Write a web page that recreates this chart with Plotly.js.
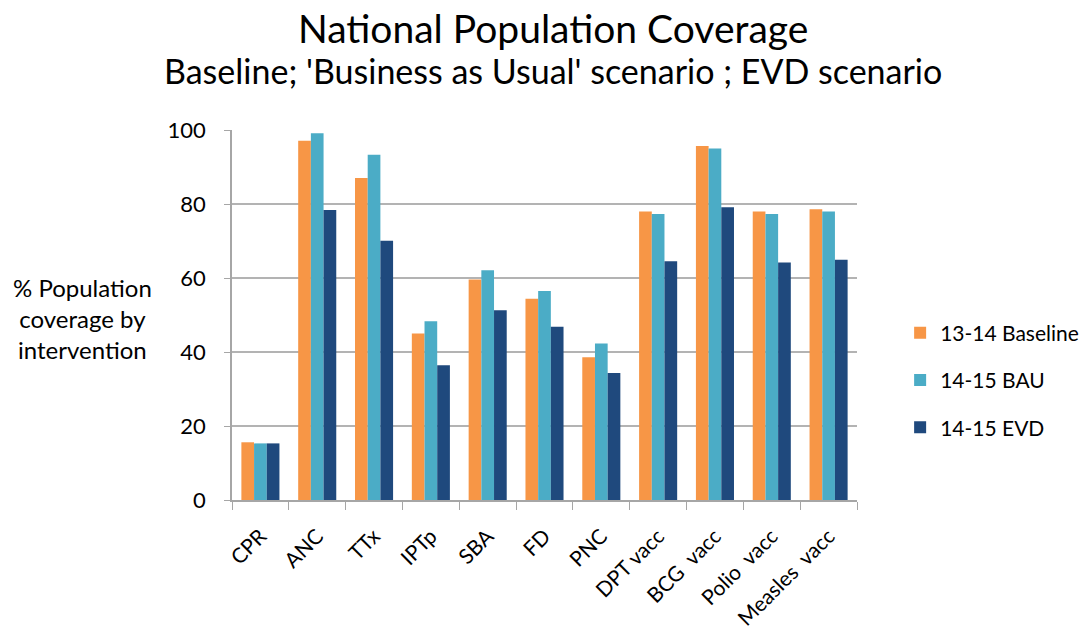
<!DOCTYPE html>
<html>
<head>
<meta charset="utf-8">
<script src="https://cdn.plot.ly/plotly-3.0.1.min.js"></script>
<style>html,body{margin:0;padding:0;background:#fff;}#chart{width:1082px;height:642px;}</style>
</head>
<body>
<div id="chart"></div>
<script>
const categories = ["CPR","ANC","TTx","IPTp","SBA","FD","PNC","DPT vacc","BCG  vacc","Polio  vacc","Measles  vacc"];
const baseline1314 = [15.6, 97.1, 87.0, 45.0, 59.6, 54.4, 38.6, 78.0, 95.7, 78.0, 78.6];
const bau1415 = [15.3, 99.1, 93.3, 48.3, 62.1, 56.5, 42.3, 77.3, 95.0, 77.3, 78.0];
const evd1415 = [15.3, 78.4, 70.1, 36.4, 51.3, 46.8, 34.3, 64.5, 79.1, 64.2, 64.9];
const seriesNames = ["13-14 Baseline", "14-15 BAU", "14-15 EVD"];
const yTicks = [0, 20, 40, 60, 80, 100];

const font = "Lato, Open Sans, sans-serif";
const colors = ["#F79646", "#4BACC6", "#1F497D"];
const vals = [baseline1314, bau1415, evd1415];
const traces = vals.map((v, i) => ({
  type: "bar",
  x: categories,
  y: v,
  name: seriesNames[i],
  legendgroup: "g" + i,
  marker: {color: colors[i], line: {width: 0}},
  hoverinfo: "x+y+name"
}));

const layout = {
  width: 1082, height: 642,
  margin: {l: 232, r: 225, t: 130, b: 142, autoexpand: false},
  paper_bgcolor: "#fff", plot_bgcolor: "#fff",
  barmode: "group", bargap: 0.33, bargroupgap: 0,
  font: {family: font, color: "#000"},
  showlegend: true,
  legend: {x: 1.069, xanchor: "left", y: 0.324, yanchor: "middle",
           font: {size: 21, color: "#000", family: font},
           tracegroupgap: 17, itemwidth: 30},
  xaxis: {
    type: "category",
    tickangle: -45,
    tickfont: {size: 21, color: "#000", family: font},
    showline: true, linecolor: "#a6a6a6", linewidth: 1.5,
    ticks: "outside", tickson: "boundaries", ticklen: 8, tickcolor: "#a6a6a6",
    showgrid: false, fixedrange: true, ticklabelstandoff: 14
  },
  yaxis: {
    range: [0, 100],
    tickvals: yTicks,
    tickfont: {size: 22, color: "#000", family: font},
    showline: true, linecolor: "#a6a6a6", linewidth: 1.5,
    ticks: "outside", ticklen: 6, tickcolor: "#a6a6a6",
    showgrid: true, gridcolor: "#b3b3b3", gridwidth: 1.5,
    zeroline: false, ticklabelstandoff: 14
  },
  annotations: [
    {text: "National Population Coverage", xref: "paper", yref: "paper",
     x: 0.514, y: 1, yshift: 102, xanchor: "center", yanchor: "middle", showarrow: false,
     font: {size: 39, family: font, color: "#000"}},
    {text: "Baseline; 'Business as Usual' scenario ; EVD scenario", xref: "paper", yref: "paper",
     x: 0.514, y: 1, yshift: 60, xanchor: "center", yanchor: "middle", showarrow: false,
     font: {size: 34, family: font, color: "#000"}},
    {text: "% Population<br>coverage by<br>intervention", xref: "paper", yref: "paper",
     x: 0, xshift: -150, y: 0.49, xanchor: "center", yanchor: "middle", showarrow: false,
     align: "center", font: {size: 24, family: font, color: "#000"}}
  ]
};

Plotly.newPlot("chart", traces, layout, {displayModeBar: false, staticPlot: false});
</script>
</body>
</html>
